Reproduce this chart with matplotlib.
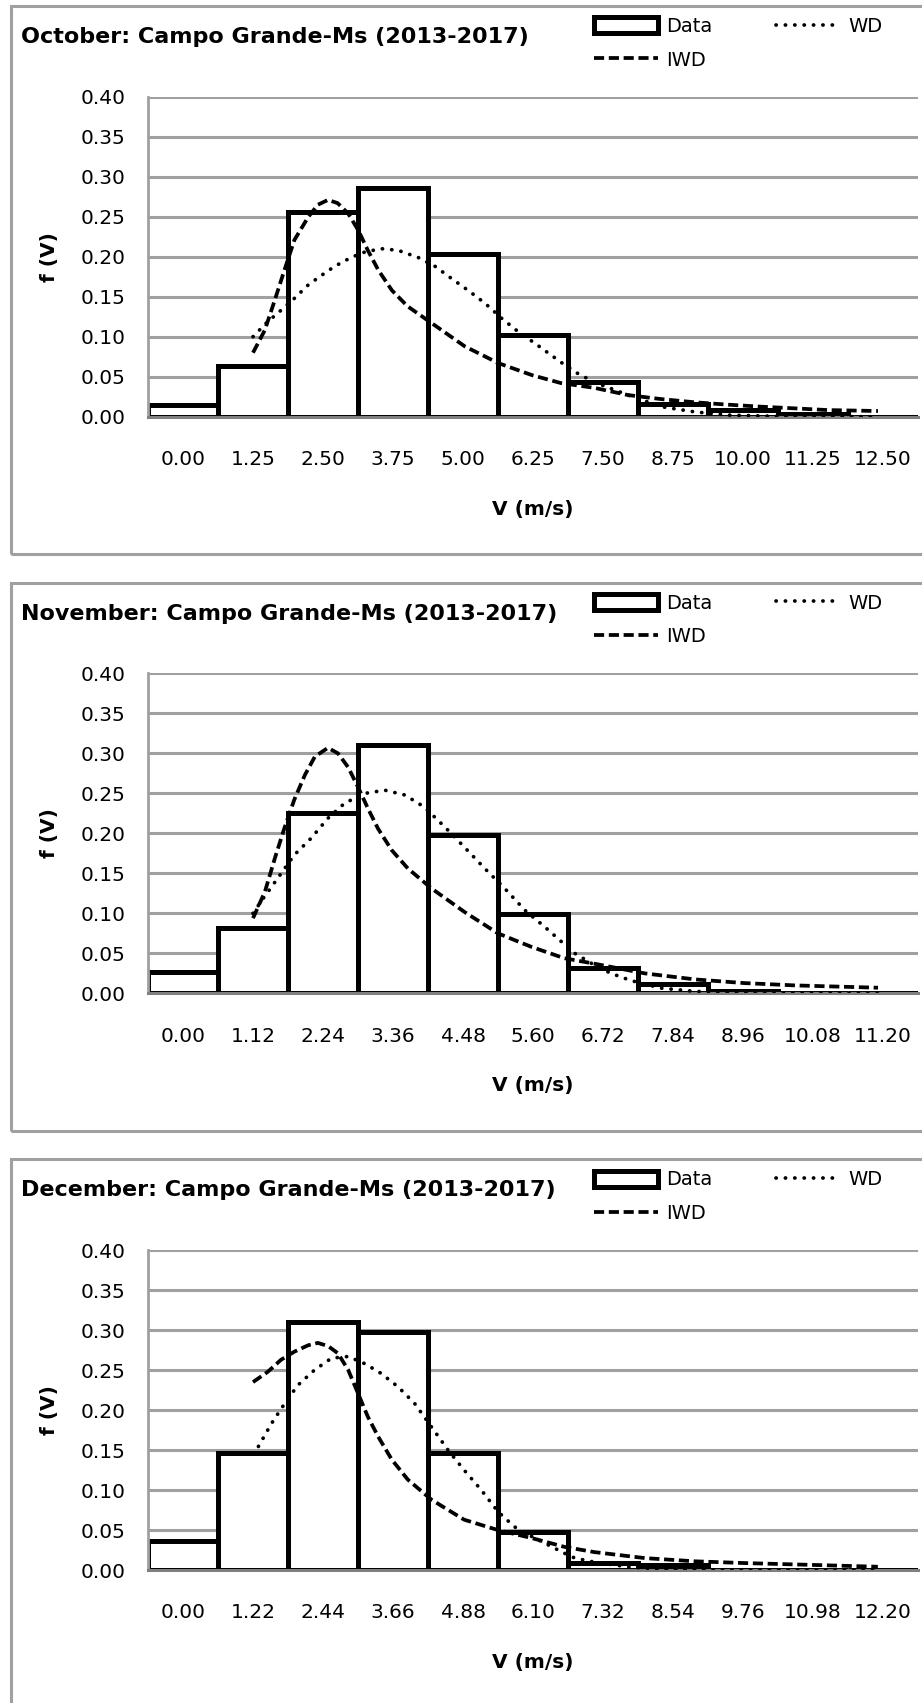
import numpy as np
import matplotlib
matplotlib.use("Agg")
import matplotlib.pyplot as plt
from matplotlib.patches import Rectangle, Patch
from matplotlib.lines import Line2D

plt.rcParams['font.family'] = ['DejaVu Sans']

# bin labels (m/s) for each month: 11 classes
oct_step = 1.25
nov_step = 1.12
dec_step = 1.22

# observed frequency per class
oct_data = [0.015, 0.064, 0.256, 0.286, 0.204, 0.102, 0.043, 0.016, 0.009, 0.004, 0.0]
nov_data = [0.027, 0.082, 0.226, 0.310, 0.198, 0.099, 0.032, 0.012, 0.003, 0.001, 0.0]
dec_data = [0.037, 0.146, 0.310, 0.298, 0.147, 0.048, 0.009, 0.007, 0.0, 0.0, 0.0]

# fitted curves (v in m/s, f(v))
oct_iwd_v = [1.25, 1.46, 1.64, 1.81, 1.99, 2.24, 2.41, 2.59, 2.76, 2.95, 3.13, 3.30, 3.49,
             3.73, 4.01, 4.44, 5.03, 5.63, 6.23, 6.75, 7.35, 7.95, 8.54, 9.14, 9.74, 10.33,
             10.93, 11.51, 12.41]
oct_iwd_f = [0.080, 0.108, 0.146, 0.183, 0.221, 0.250, 0.265, 0.271, 0.267, 0.254, 0.233, 0.208,
             0.183, 0.158, 0.138, 0.117, 0.088, 0.067, 0.052, 0.042, 0.036, 0.027, 0.022, 0.018,
             0.015, 0.0125, 0.0104, 0.0083, 0.0071]
oct_wd_v = [1.25, 1.50, 1.75, 1.99, 2.24, 2.48, 2.71, 3.00, 3.25, 3.54, 3.84, 4.20, 4.50, 4.79,
            5.09, 5.39, 5.69, 5.99, 6.28, 6.75, 7.05, 7.35, 7.95, 8.54, 9.14, 9.74, 10.6, 12.41]
oct_wd_f = [0.100, 0.118, 0.133, 0.148, 0.165, 0.177, 0.188, 0.199, 0.206, 0.210, 0.208, 0.199,
            0.188, 0.173, 0.158, 0.142, 0.123, 0.106, 0.092, 0.068, 0.054, 0.043, 0.027, 0.0125,
            0.006, 0.002, 0.0005, 0.0]

nov_iwd_v = [1.12, 1.31, 1.47, 1.62, 1.78, 1.95, 2.11, 2.32, 2.48, 2.64, 2.80, 2.96, 3.12, 3.34,
             3.60, 3.98, 4.50, 5.04, 5.58, 6.10, 6.59, 7.39, 8.19, 8.98, 9.79, 11.12]
nov_iwd_f = [0.094, 0.127, 0.169, 0.206, 0.242, 0.273, 0.296, 0.307, 0.300, 0.283, 0.258, 0.231,
             0.206, 0.179, 0.156, 0.131, 0.102, 0.075, 0.058, 0.044, 0.037, 0.025, 0.0175, 0.0129,
             0.010, 0.0071]
nov_wd_v = [1.12, 1.25, 1.47, 1.78, 2.05, 2.32, 2.59, 2.91, 3.23, 3.55, 3.86, 4.19, 4.50, 4.83,
            5.15, 5.47, 5.79, 6.05, 6.27, 6.59, 6.85, 7.17, 7.65, 8.19, 9.25, 11.12]
nov_wd_f = [0.100, 0.115, 0.139, 0.173, 0.194, 0.219, 0.238, 0.250, 0.254, 0.248, 0.233, 0.208,
            0.183, 0.156, 0.131, 0.104, 0.083, 0.065, 0.050, 0.035, 0.025, 0.016, 0.0066, 0.0025,
            0.0005, 0.0]

dec_iwd_v = [1.22, 1.48, 1.71, 1.94, 2.18, 2.35, 2.53, 2.70, 2.88, 3.05, 3.22, 3.40, 3.64, 3.92,
             4.33, 4.90, 5.49, 6.08, 6.65, 7.17, 8.05, 8.92, 9.78, 10.66, 12.11]
dec_iwd_f = [0.235, 0.248, 0.263, 0.273, 0.281, 0.284, 0.280, 0.271, 0.250, 0.221, 0.192, 0.167,
             0.138, 0.113, 0.088, 0.063, 0.050, 0.040, 0.029, 0.0225, 0.015, 0.011, 0.0088, 0.0071,
             0.0042]
dec_wd_v = [1.22, 1.31, 1.54, 1.77, 2.00, 2.29, 2.59, 2.88, 3.17, 3.45, 3.75, 4.04, 4.33, 4.62,
            4.90, 5.20, 5.49, 5.78, 6.08, 6.65, 6.83, 7.17, 7.76, 8.33, 9.50, 12.11]
dec_wd_f = [0.145, 0.154, 0.183, 0.208, 0.231, 0.250, 0.265, 0.267, 0.258, 0.246, 0.229, 0.208,
            0.179, 0.150, 0.125, 0.100, 0.073, 0.054, 0.042, 0.021, 0.015, 0.010, 0.004, 0.001,
            0.0, 0.0]

titles = ["October: Campo Grande-Ms (2013-2017)",
          "November: Campo Grande-Ms (2013-2017)",
          "December: Campo Grande-Ms (2013-2017)"]

panels = [
    (titles[0], oct_step, oct_data, oct_iwd_v, oct_iwd_f, oct_wd_v, oct_wd_f),
    (titles[1], nov_step, nov_data, nov_iwd_v, nov_iwd_f, nov_wd_v, nov_wd_f),
    (titles[2], dec_step, dec_data, dec_iwd_v, dec_iwd_f, dec_wd_v, dec_wd_f),
]

W, H = 922, 1703
fig = plt.figure(figsize=(W/100, H/100), dpi=100)

grid_c = '#a0a0a0'
fs = 14.5
lw_curve = 2.7
dash_style = (0, (2.7, 1.25))
dot_style = (0, (0.05, 2.45))

for k, (title, step, data, iwd_v, iwd_f, wd_v, wd_f) in enumerate(panels):
    off = 576.7*k
    # grey frame of the chart
    fig.add_artist(Rectangle((11/W, 1-(554+off)/H), 1.0, 548/H, transform=fig.transFigure,
                             fill=False, edgecolor=grid_c, lw=2.2))

    ax = fig.add_axes([148/W, 1-(416.7+off)/H, 770/W, 320/H])
    pos = np.arange(len(data))*step
    ax.bar(pos, data, width=step, color='white', edgecolor='black', linewidth=3.6, zorder=2)
    ax.plot(wd_v, wd_f, color='black', lw=lw_curve, linestyle=dot_style, dash_capstyle='round', zorder=3)
    ax.plot(iwd_v, iwd_f, color='black', lw=lw_curve, linestyle=dash_style, zorder=3)

    ax.set_xlim(-0.5*step, 10.5*step)
    ax.set_ylim(0, 0.40)
    ax.set_xticks(pos)
    ax.set_xticklabels(["{:.2f}".format(v) for v in pos])
    ax.set_yticks(np.arange(0, 0.41, 0.05))
    ax.set_yticklabels(["{:.2f}".format(v) for v in np.arange(0, 0.41, 0.05)])
    ax.tick_params(axis='both', length=0, labelsize=fs)
    ax.tick_params(axis='x', pad=24)
    ax.tick_params(axis='y', pad=16)
    ax.grid(axis='y', color=grid_c, lw=2.2, zorder=0)
    ax.set_axisbelow(True)
    for s in ['top', 'right']:
        ax.spines[s].set_visible(False)
    ax.spines['left'].set_color(grid_c)
    ax.spines['left'].set_linewidth(2.0)
    ax.spines['bottom'].set_color('#808080')
    ax.spines['bottom'].set_linewidth(2.2)
    ax.set_xlabel("V (m/s)", fontsize=fs, fontweight='bold', labelpad=22)
    ax.set_ylabel("f (V)", fontsize=fs, fontweight='bold', labelpad=16)

    fig.text(21/W, 1-(37+off)/H, title, fontsize=16, fontweight='bold', va='center', ha='left')

    handles = [Patch(facecolor='white', edgecolor='black', linewidth=3.6),
               Line2D([], [], color='black', lw=lw_curve, linestyle=dash_style),
               Line2D([], [], color='black', lw=lw_curve, linestyle=dot_style, dash_capstyle='round')]
    ax.legend(handles, ["Data", "IWD", "WD"], ncol=2, loc='upper left',
              bbox_to_anchor=(594/W, 1-(17+off)/H), bbox_transform=fig.transFigure,
              frameon=False, fontsize=14, borderpad=0, borderaxespad=0, handlelength=3.3,
              handletextpad=0.4, columnspacing=3.3, labelspacing=0.75, handleheight=0.9)

fig.savefig("out.png", dpi=100)
